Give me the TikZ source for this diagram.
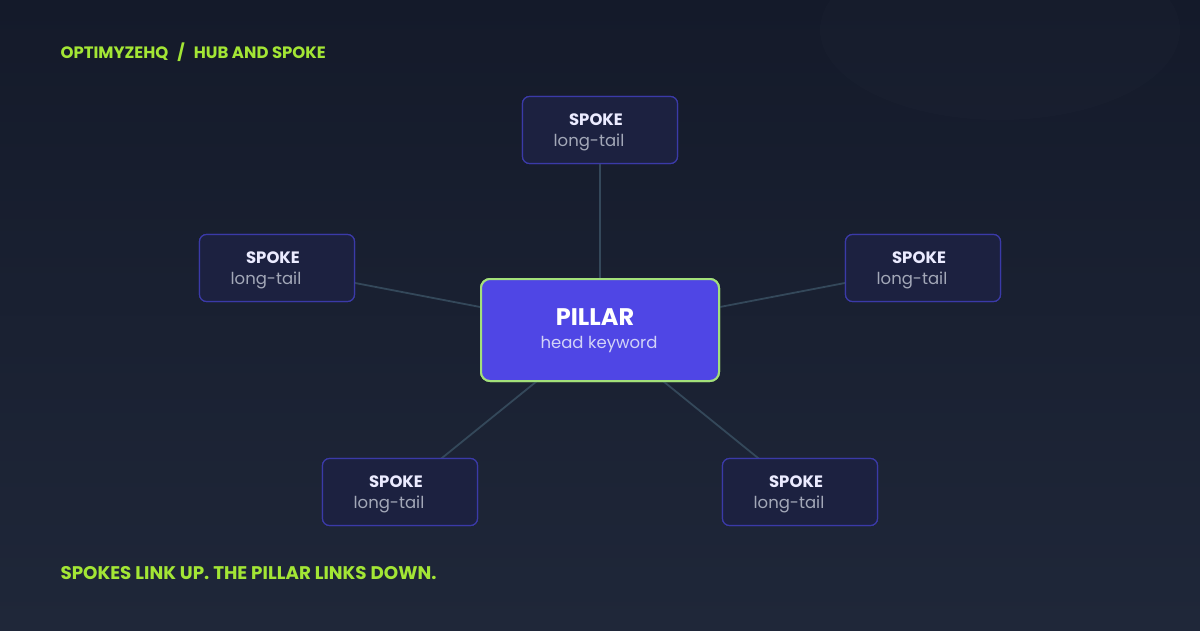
\documentclass[tikz,border=0pt]{standalone}
\usepackage{fontspec}
\setmainfont{Poppins}
\definecolor{bgtop}{HTML}{141A2A}
\definecolor{bgbot}{HTML}{1F2739}
\definecolor{acc}{HTML}{A3E635}
\definecolor{pill}{HTML}{4F46E5}
\definecolor{pillb}{HTML}{A3E07A}
\definecolor{spk}{HTML}{1C2140}
\definecolor{spkb}{HTML}{3B3AA8}
\definecolor{ln}{HTML}{34485A}
\definecolor{sub}{HTML}{A3A8B8}
\definecolor{psub}{HTML}{D2D3F7}
\begin{document}
\begin{tikzpicture}[x=1pt,y=-1pt,
 spoke/.style={draw=spkb,fill=spk,rounded corners=7pt,line width=1.2pt,minimum width=155pt,minimum height=67pt},
 pillarbox/.style={draw=pillb,fill=pill,rounded corners=9pt,line width=2pt,minimum width=238pt,minimum height=102pt},
 conn/.style={draw=ln,line width=1.8pt},
 ttl/.style={font=\bfseries\fontsize{16.5}{19}\selectfont,text=white!92!blue},
 lt/.style={font=\fontsize{16.5}{19}\selectfont,text=sub}]
\shade[top color=bgtop,bottom color=bgbot] (0,0) rectangle (1200,630);
\useasboundingbox (0,0) rectangle (1200,630);
\fill[white,opacity=0.01] (1000,30) ellipse (180 and 90);
\node[pillarbox] (p) at (600,330) {};
\foreach \n/\x/\y in {t/600/130, l/277/268, r/923/268, bl/400/492, br/800/492}{
  \node[spoke] (\n) at (\x,\y) {};
}
\foreach \n in {t,l,r,bl,br}{\draw[conn] (p.center) -- (\n.center);}
\node[pillarbox] at (p.center) {};
\foreach \n in {t,l,r,bl,br}{
  \node[spoke] at (\n.center) {};
  \node[ttl] at ([shift={(-4,-10)}]\n.center) {SPOKE};
  \node[lt] at ([shift={(-11,12)}]\n.center) {long-tail};
}
\node[font=\bfseries\fontsize{24}{28}\selectfont,text=white] (pt) at (595,317) {PILLAR};
\node[font=\fontsize{16.5}{19}\selectfont,text=psub] (ps) at (599,345) {head keyword};
\node[anchor=west,font=\bfseries\fontsize{16.5}{19}\selectfont,text=acc] (h) at (57,52) {OPTIMYZEHQ\,\, /\,\, HUB AND SPOKE};
\node[anchor=west,font=\bfseries\fontsize{18.3}{21}\selectfont,text=acc] (f) at (57,573) {SPOKES LINK UP. THE PILLAR LINKS DOWN.};
\end{tikzpicture}
\end{document}
